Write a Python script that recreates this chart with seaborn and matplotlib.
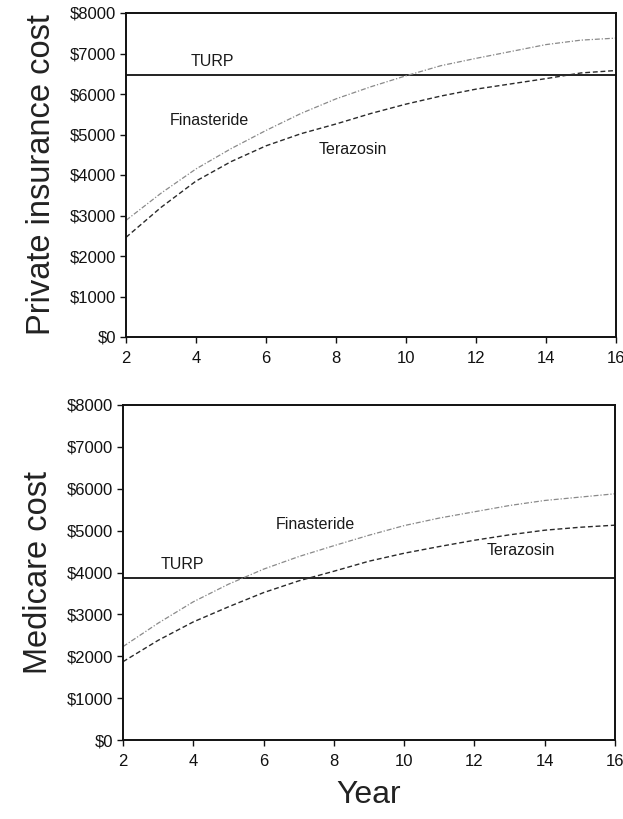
import matplotlib
matplotlib.use("Agg")
import matplotlib.pyplot as plt
import pandas as pd
import seaborn as sns

# Cumulative cost of each treatment strategy by year of follow-up
years = [2, 3, 4, 5, 6, 7, 8, 9, 10, 11, 12, 13, 14, 15, 16]

private_turp = [6470] * 15
private_finasteride = [2880, 3550, 4150, 4650, 5100, 5520, 5880, 6180, 6450, 6700,
                       6880, 7050, 7220, 7330, 7380]
private_terazosin = [2460, 3200, 3850, 4330, 4720, 5020, 5260, 5520, 5750, 5950,
                     6120, 6250, 6380, 6520, 6580]

medicare_turp = [3870] * 15
medicare_finasteride = [2230, 2790, 3300, 3720, 4080, 4380, 4640, 4890, 5120, 5300,
                        5450, 5600, 5720, 5800, 5880]
medicare_terazosin = [1870, 2380, 2820, 3180, 3520, 3800, 4030, 4270, 4460, 4620,
                      4770, 4900, 5010, 5080, 5130]

treatments = ["TURP", "Finasteride", "Terazosin"]
y_ticks = [0, 1000, 2000, 3000, 4000, 5000, 6000, 7000, 8000]
y_tick_labels = ["$0", "$1000", "$2000", "$3000", "$4000", "$5000", "$6000", "$7000", "$8000"]
x_ticks = [2, 4, 6, 8, 10, 12, 14, 16]


def long_frame(turp, fin, ter):
    rows = []
    for name, vals in zip(treatments, [turp, fin, ter]):
        for yr, v in zip(years, vals):
            rows.append({"Year": yr, "Cost": v, "Treatment": name})
    return pd.DataFrame(rows)


sns.set_style("ticks")
plt.rcParams["font.family"] = ["Liberation Sans", "DejaVu Sans"]

fig = plt.figure(figsize=(6.23, 8.19), dpi=100)
W, H = 623, 819


def make_axes(left, right, top, bottom):
    return fig.add_axes([left / W, 1 - bottom / H, (right - left) / W, (bottom - top) / H])


ax_top = make_axes(126, 616, 13, 337)
ax_bot = make_axes(123, 615, 405, 740)

palette = {"TURP": "#111111", "Finasteride": "#8a8a8a", "Terazosin": "#2a2a2a"}
dashes = {"TURP": "", "Finasteride": (4, 1.5, 1, 1.5), "Terazosin": (3.5, 2)}
widths = {"TURP": 1.3, "Finasteride": 0.9, "Terazosin": 1.0}

panels = [
    (ax_top, long_frame(private_turp, private_finasteride, private_terazosin),
     "Private insurance cost",
     [("TURP", 3.85, 6620), ("Finasteride", 3.25, 5160), ("Terazosin", 7.5, 4440)]),
    (ax_bot, long_frame(medicare_turp, medicare_finasteride, medicare_terazosin),
     "Medicare cost",
     [("TURP", 3.08, 4020), ("Finasteride", 6.35, 4970), ("Terazosin", 12.35, 4350)]),
]

for ax, df, ylabel, labels in panels:
    for name in treatments:
        sub = df[df["Treatment"] == name]
        sns.lineplot(data=sub, x="Year", y="Cost", ax=ax, color=palette[name],
                     linewidth=widths[name], dashes=False, legend=False)
        line = ax.lines[-1]
        if dashes[name]:
            line.set_dashes(dashes[name])
    for text, x, y in labels:
        ax.text(x, y, text, fontsize=11.5, color="#1a1a1a", ha="left", va="bottom")
    ax.set_xlim(2, 16)
    ax.set_ylim(0, 8000)
    ax.set_xticks(x_ticks)
    ax.set_xticklabels([str(t) for t in x_ticks])
    ax.set_yticks(y_ticks)
    ax.set_yticklabels(y_tick_labels)
    ax.tick_params(axis="both", direction="out", length=4, width=1.0, labelsize=12,
                   colors="#111111", pad=3)
    ax.tick_params(axis="x", pad=6)
    for sp in ax.spines.values():
        sp.set_visible(True)
        sp.set_linewidth(1.4)
        sp.set_color("#111111")
    ax.set_ylabel(ylabel, fontsize=23.5, color="#222222", labelpad=9)
    ax.set_xlabel("")

ax_bot.set_xlabel("Year", fontsize=23, color="#222222", labelpad=8)

fig.savefig("out.png", dpi=100)
